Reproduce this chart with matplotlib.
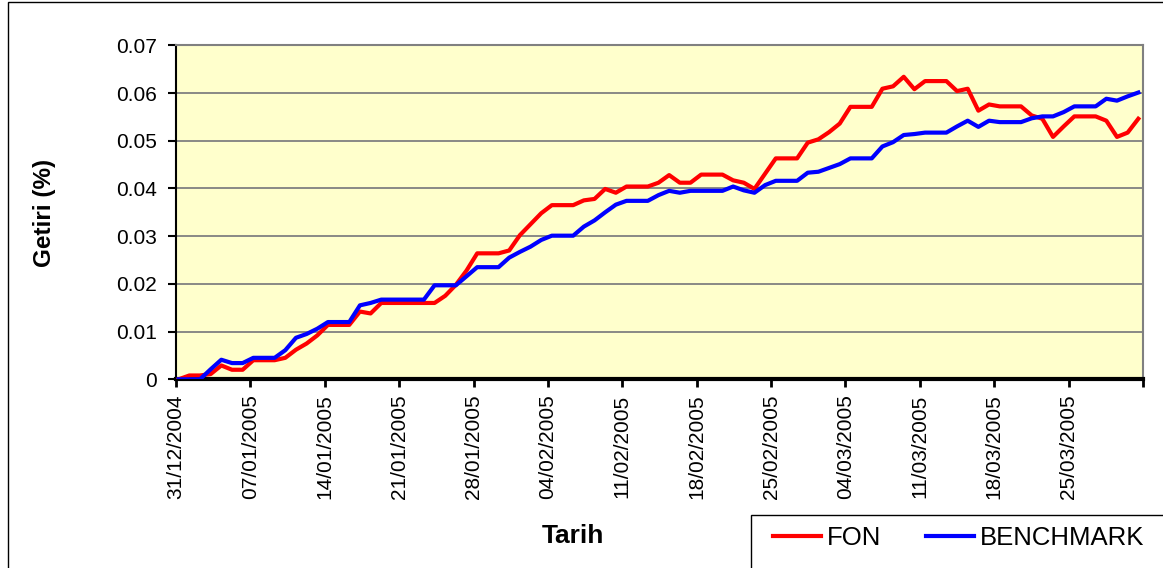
import numpy as np
import matplotlib
matplotlib.use("Agg")
import matplotlib.pyplot as plt
from matplotlib.patches import Rectangle

# ---- data (daily, 31/12/2004 .. 31/03/2005) ----
days = np.arange(91)
fon = [0.0, 0.0008, 0.0008, 0.0011, 0.0029, 0.0020, 0.0020, 0.0040, 0.0040, 0.0040,
       0.0045, 0.0062, 0.0075, 0.0092, 0.0114, 0.0114, 0.0114, 0.0142, 0.0138, 0.0160,
       0.0160, 0.0160, 0.0160, 0.0160, 0.0160, 0.0175, 0.0198, 0.0228, 0.0264, 0.0264,
       0.0264, 0.0270, 0.0302, 0.0325, 0.0348, 0.0365, 0.0365, 0.0365, 0.0375, 0.0378,
       0.0399, 0.0391, 0.0404, 0.0404, 0.0404, 0.0412, 0.0428, 0.0412, 0.0412, 0.0429,
       0.0429, 0.0429, 0.0417, 0.0412, 0.0399, 0.0431, 0.0463, 0.0463, 0.0463, 0.0496,
       0.0503, 0.0518, 0.0536, 0.0571, 0.0571, 0.0571, 0.0609, 0.0614, 0.0634, 0.0608,
       0.0625, 0.0625, 0.0625, 0.0604, 0.0609, 0.0563, 0.0576, 0.0572, 0.0572, 0.0572,
       0.0553, 0.0546, 0.0508, 0.0530, 0.0551, 0.0551, 0.0551, 0.0542, 0.0508, 0.0517,
       0.0546]
benchmark = [0.0, 0.0, 0.0, 0.0021, 0.0041, 0.0034, 0.0034, 0.0045, 0.0045, 0.0045,
             0.0061, 0.0087, 0.0095, 0.0106, 0.0120, 0.0120, 0.0120, 0.0155, 0.0160, 0.0167,
             0.0167, 0.0167, 0.0167, 0.0167, 0.0197, 0.0197, 0.0197, 0.0216, 0.0235, 0.0235,
             0.0235, 0.0255, 0.0267, 0.0278, 0.0292, 0.0301, 0.0301, 0.0301, 0.0320, 0.0333,
             0.0350, 0.0366, 0.0374, 0.0374, 0.0374, 0.0386, 0.0395, 0.0391, 0.0395, 0.0395,
             0.0395, 0.0395, 0.0404, 0.0396, 0.0391, 0.0407, 0.0416, 0.0416, 0.0416, 0.0433,
             0.0435, 0.0443, 0.0451, 0.0463, 0.0463, 0.0463, 0.0488, 0.0497, 0.0512, 0.0514,
             0.0517, 0.0517, 0.0517, 0.0530, 0.0542, 0.0529, 0.0542, 0.0539, 0.0539, 0.0539,
             0.0547, 0.0551, 0.0551, 0.0560, 0.0572, 0.0572, 0.0572, 0.0588, 0.0584, 0.0593,
             0.0601]
tick_labels = ["31/12/2004", "07/01/2005", "14/01/2005", "21/01/2005", "28/01/2005",
               "04/02/2005", "11/02/2005", "18/02/2005", "25/02/2005", "04/03/2005",
               "11/03/2005", "18/03/2005", "25/03/2005", ""]
y_ticks = [0, 0.01, 0.02, 0.03, 0.04, 0.05, 0.06, 0.07]
y_labels = ["0", "0.01", "0.02", "0.03", "0.04", "0.05", "0.06", "0.07"]

plt.rcParams['font.family'] = ['Liberation Sans', 'DejaVu Sans']

W, H = 1163, 568
fig = plt.figure(figsize=(W / 100, H / 100), dpi=100)
fig.patch.set_facecolor('white')

# chart-area border
fig.patches.append(Rectangle((8 / W, -0.1), 1.2, 1 - 2 / H + 0.1, transform=fig.transFigure,
                             fill=False, edgecolor='black', lw=1.0))

ax = fig.add_axes([176 / W, 1 - 379.3 / H, 967 / W, 334 / H])
ax.set_facecolor('#FFFFCC')

ax.plot(days, fon, color='#FF0000', lw=3.0, label='FON', zorder=3)
ax.plot(days, benchmark, color='#0000FF', lw=3.0, label='BENCHMARK', zorder=3)

xlim = (-0.25, 90.44)
ax.set_xlim(*xlim)
ax.set_ylim(0, 0.07)
ax.set_xticks(np.linspace(xlim[0], xlim[1], len(tick_labels)))
ax.set_xticklabels(tick_labels, rotation=90, fontsize=15)
ax.set_yticks(y_ticks)
ax.set_yticklabels(y_labels, fontsize=15)

ax.yaxis.grid(True, color='#808080', lw=1.3)
ax.set_axisbelow(True)

for s in ('top', 'right'):
    ax.spines[s].set_color('#808080')
    ax.spines[s].set_linewidth(1.5)
ax.spines['left'].set_color('black')
ax.spines['left'].set_linewidth(1.5)
ax.spines['bottom'].set_color('black')
ax.spines['bottom'].set_linewidth(3.0)

ax.tick_params(axis='x', direction='out', length=6, width=2, color='black', pad=5)
ax.tick_params(axis='y', direction='out', length=6, width=1.5, color='black', pad=8)

fig.text(45 / W, 1 - 213 / H, 'Getiri (%)', rotation=90, ha='center', va='center',
         fontsize=17.5, fontweight='bold')
fig.text(573 / W, 1 - 536 / H, 'Tarih', ha='center', va='center',
         fontsize=19, fontweight='bold')

# legend box
fig.patches.append(Rectangle((751 / W, -0.1), 0.5, (568 - 515) / H + 0.1,
                             transform=fig.transFigure, fill=True, facecolor='white',
                             edgecolor='black', lw=1.0, zorder=1))
leg = fig.legend(loc='center left', bbox_to_anchor=(773 / W, 1 - 538 / H), ncol=2,
                 frameon=False, fontsize=18.5, handlelength=1.85, handletextpad=0.25,
                 columnspacing=1.75, borderpad=0, borderaxespad=0)
for line in leg.get_lines():
    line.set_linewidth(3.0)

fig.savefig('out.png', dpi=100, facecolor='white')
